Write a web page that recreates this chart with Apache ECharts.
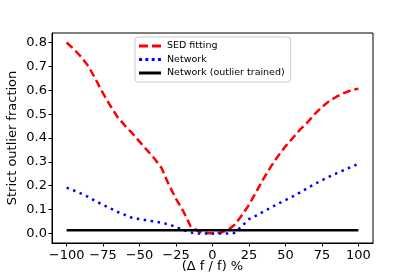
<!DOCTYPE html>
<html><head><meta charset="utf-8">
<script src="https://cdn.jsdelivr.net/npm/echarts@6/dist/echarts.min.js"></script>
<style>html,body{margin:0;padding:0;background:#fff}#c{width:415px;height:277px}</style>
</head><body><div id="c"></div>
<script>
const xs = [-100,-95,-90,-85,-80,-75,-70,-65,-60,-55,-50,-45,-40,-35,-30,-25,-20,-15,-10,-5,0,5,10,15,20,25,30,35,40,45,50,55,60,65,70,75,80,85,90,95,100];
const sedFitting = [0.80,0.772,0.74,0.70,0.645,0.587,0.535,0.487,0.452,0.42,0.385,0.35,0.315,0.275,0.205,0.145,0.093,0.03,0.01,0.003,0.0,0.003,0.012,0.035,0.075,0.12,0.175,0.23,0.28,0.325,0.365,0.40,0.435,0.465,0.50,0.53,0.555,0.573,0.588,0.60,0.607];
const network = [0.192,0.18,0.167,0.153,0.135,0.12,0.105,0.09,0.078,0.065,0.06,0.055,0.05,0.045,0.038,0.027,0.015,0.004,0.0,0.0,0.0,0.0,0.0,0.002,0.03,0.06,0.075,0.092,0.108,0.125,0.14,0.155,0.172,0.19,0.207,0.223,0.238,0.252,0.265,0.279,0.292];
const networkOutlier = xs.map(() => 0.013);
const xTicks = [-100,-75,-50,-25,0,25,50,75,100];
const yTicks = [0,0.1,0.2,0.3,0.4,0.5,0.6,0.7,0.8];
const names = ['SED fitting','Network','Network (outlier trained)'];

const font = 'DejaVu Sans';
const fmtX = v => v < 0 ? '\u2212' + Math.abs(v) : String(v);
const fmtY = v => v.toFixed(1);
const pairs = arr => xs.map((x,i) => [x, arr[i]]);

const iconDash = 'path://M0,0h9v3h-9z M13,0h9v3h-9z';
const iconDot = 'path://M0,0h3v3h-3z M6.3,0h3v3h-3z M12.6,0h3v3h-3z M18.9,0h3v3h-3z';
const iconSolid = 'path://M0,0h22v3h-22z';

const chart = echarts.init(document.getElementById('c'), null, {renderer:'canvas'});
chart.setOption({
  animation: false,
  backgroundColor: '#fff',
  grid: {left: 52, top: 33, right: 42, bottom: 34, outerBoundsMode: 'none', containLabel: false,
         show: true, borderColor: '#000', borderWidth: 1, backgroundColor: 'transparent'},
  legend: {
    left: 135, top: 37, orient: 'vertical',
    padding: [4,6,4,4], itemGap: 3.5, itemWidth: 22, itemHeight: 3,
    backgroundColor: 'rgba(255,255,255,0.8)', borderColor: '#cccccc', borderWidth: 1, borderRadius: 3,
    textStyle: {fontFamily: font, fontSize: 9.5, color: '#000', lineHeight: 10, padding: [0,0,0,1]},
    data: [{name: names[0], icon: iconDash}, {name: names[1], icon: iconDot}, {name: names[2], icon: iconSolid}]
  },
  xAxis: {
    type: 'value', min: -110, max: 110,
    name: '(\u0394 f / f) %', nameLocation: 'middle', nameGap: 17, nameMoveOverlap: false,
    nameTextStyle: {fontFamily: font, fontSize: 13, color: '#000', verticalAlign: 'top'},
    axisLine: {show: true, onZero: false, lineStyle: {color: '#000', width: 1}},
    axisTick: {show: true, length: 3.5, lineStyle: {color: '#000'}, customValues: xTicks},
    axisLabel: {fontFamily: font, fontSize: 13, color: '#000', margin: 6, formatter: fmtX, customValues: xTicks},
    splitLine: {show: false}
  },
  yAxis: {
    type: 'value', min: -0.04, max: 0.84,
    name: 'Strict outlier fraction', nameLocation: 'middle', nameGap: 33, nameMoveOverlap: false,
    nameTextStyle: {fontFamily: font, fontSize: 13, color: '#000'},
    axisLine: {show: true, onZero: false, lineStyle: {color: '#000', width: 1}},
    axisTick: {show: true, length: 3.5, lineStyle: {color: '#000'}, customValues: yTicks},
    axisLabel: {fontFamily: font, fontSize: 13, color: '#000', margin: 5, formatter: fmtY, customValues: yTicks},
    splitLine: {show: false}
  },
  series: [
    {name: names[0], type: 'line', data: pairs(sedFitting), symbol: 'none', color: '#ff0000',
     lineStyle: {color: '#ff0000', width: 2.5, type: [8,4]}},
    {name: names[1], type: 'line', data: pairs(network), symbol: 'none', color: '#0000ff',
     lineStyle: {color: '#0000ff', width: 2.5, type: [2.5,4.5]}},
    {name: names[2], type: 'line', data: pairs(networkOutlier), symbol: 'none', color: '#000000',
     lineStyle: {color: '#000000', width: 2.5, type: 'solid'}}
  ]
});
</script></body></html>
